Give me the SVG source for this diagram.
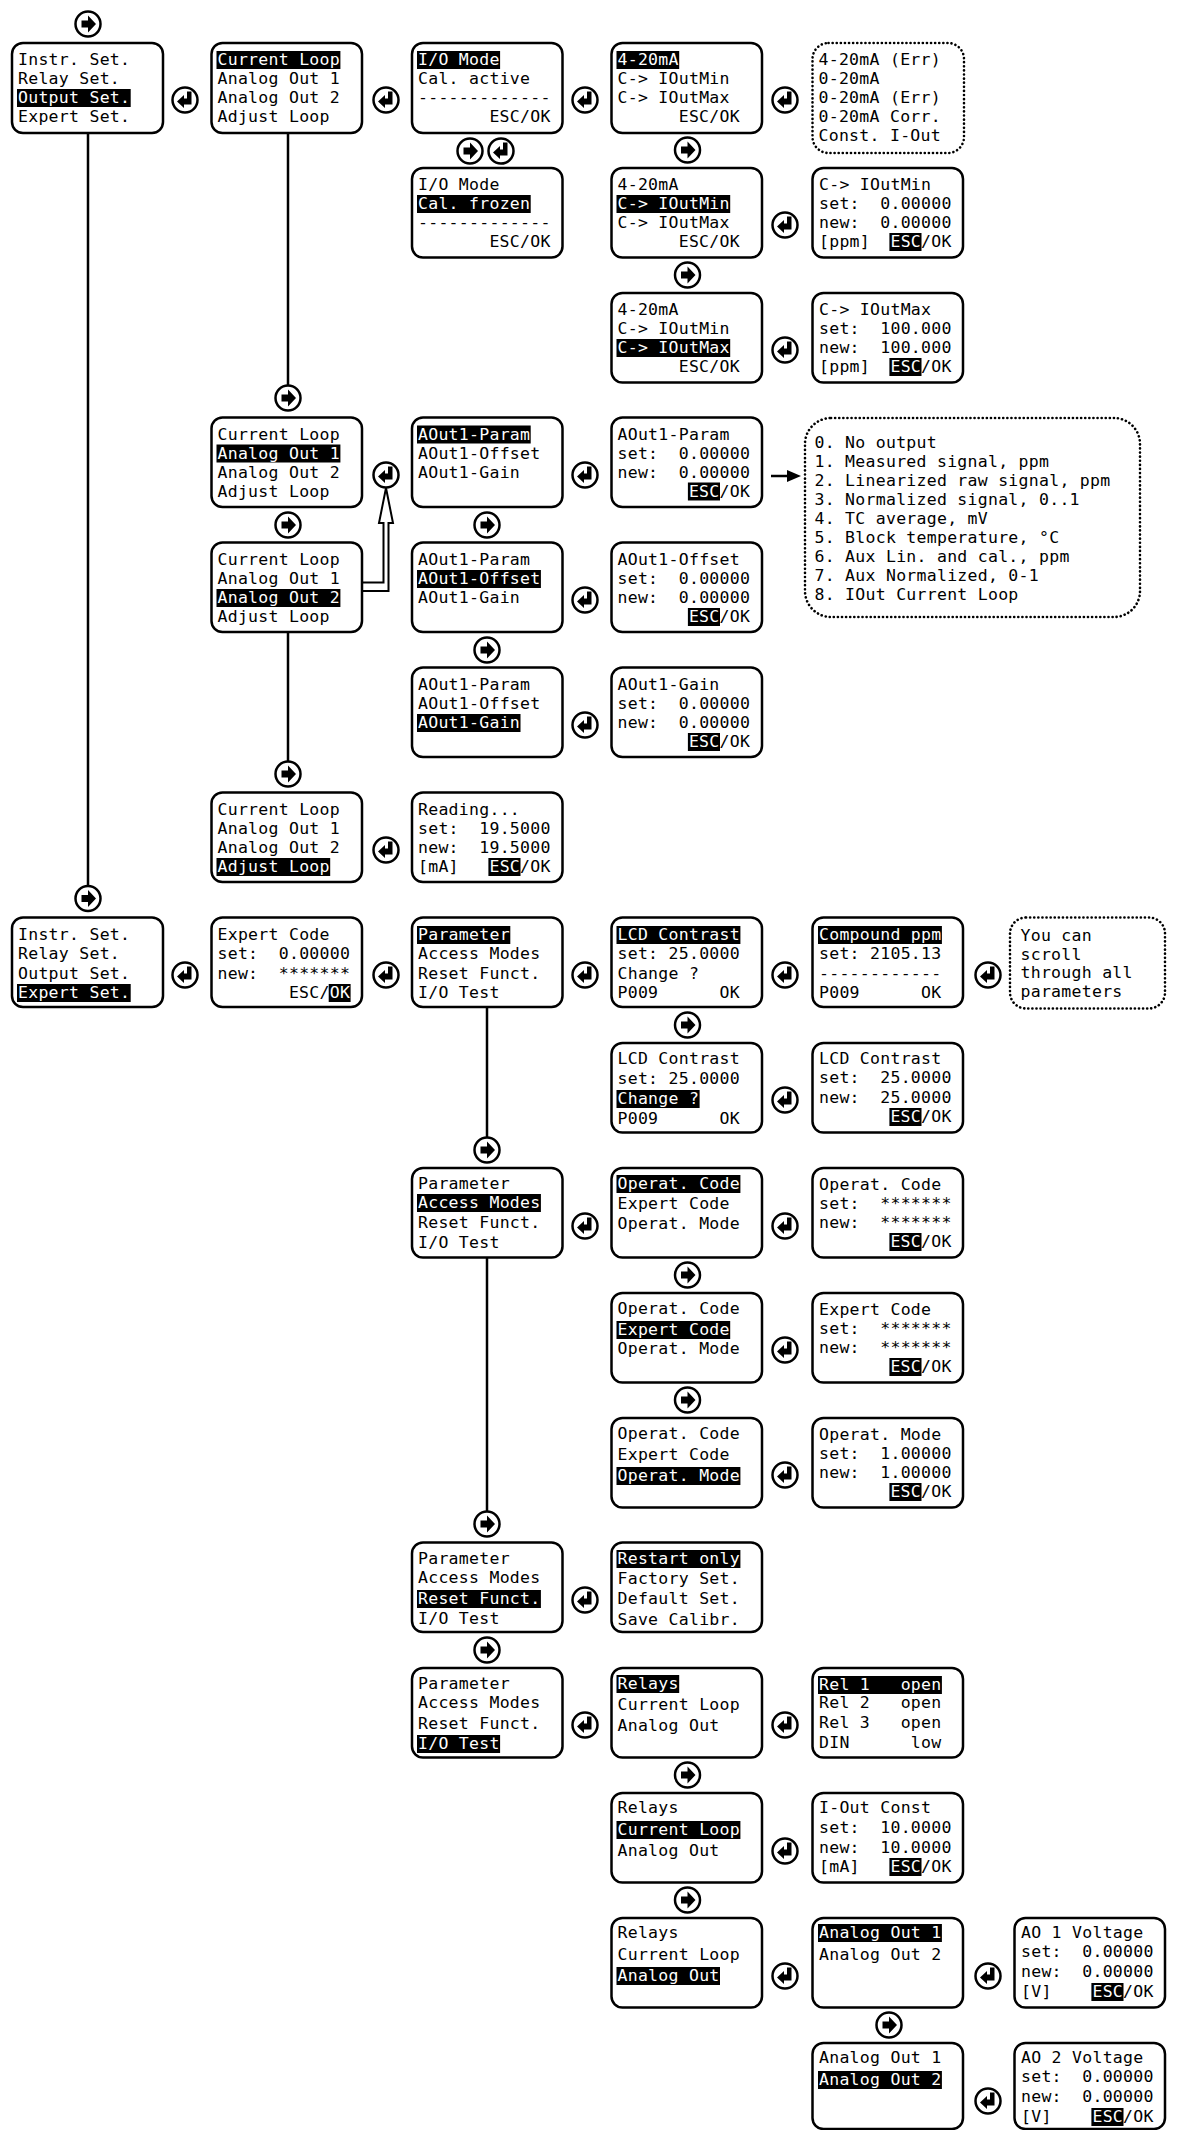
<svg xmlns="http://www.w3.org/2000/svg" xmlns:xlink="http://www.w3.org/1999/xlink" width="1178" height="2130" viewBox="0 0 1178 2130" xml:space="preserve">
<style>
.b{fill:#fff;stroke:#000;stroke-width:2.5}
.d{fill:#fff;stroke:#000;stroke-width:2.6;stroke-dasharray:0.1 4;stroke-linecap:round}
text{font-family:"DejaVu Sans Mono","Liberation Mono",monospace;font-size:16.5px;letter-spacing:0.27px;fill:#000;white-space:pre}
.w{fill:#fff}
.k{fill:#000}
.ln{stroke:#000;stroke-width:2.5;fill:none}
</style>
<defs>
<g id="nx"><circle r="12.5" fill="#fff" stroke="#000" stroke-width="2.5"/><path d="M-6.5,-3.5H0V-8.5L8,0L0,8.5V3.5H-6.5Z"/></g>
<g id="en"><circle r="12.5" fill="#fff" stroke="#000" stroke-width="2.5"/><path d="M2,-8.5H6.5V4.5H-1V8L-8,1.5L-1,-5V-1.5H2Z"/></g>
</defs>
<rect width="1178" height="2130" fill="#fff"/>

<g id="connectors">
<path class="ln" d="M88,133V886"/>
<path class="ln" d="M288,133V386"/>
<path class="ln" d="M288,632V762"/>
<path class="ln" d="M487,1007V1138"/>
<path class="ln" d="M487,1257V1512"/>
<path d="M362.5,582.5H383.5V523H379L386,488L393,523H388.5V591H362.5" fill="#fff" stroke="#000" stroke-width="2"/>
<path class="ln" d="M771,476H790" stroke-width="3"/>
<polygon points="787,470 801,476 787,482"/>
<use href="#nx" x="88" y="24"/>
<use href="#nx" x="470" y="151"/>
<use href="#en" x="501" y="151"/>
<use href="#nx" x="687.5" y="150"/>
<use href="#nx" x="687.5" y="275"/>
<use href="#nx" x="288" y="398"/>
<use href="#nx" x="288" y="525"/>
<use href="#nx" x="487" y="525"/>
<use href="#nx" x="487" y="650"/>
<use href="#nx" x="288" y="774"/>
<use href="#nx" x="88" y="898.5"/>
<use href="#nx" x="687.5" y="1025"/>
<use href="#nx" x="487" y="1150"/>
<use href="#nx" x="687.5" y="1275"/>
<use href="#nx" x="687.5" y="1400"/>
<use href="#nx" x="487" y="1524"/>
<use href="#nx" x="487" y="1650"/>
<use href="#nx" x="687.5" y="1775"/>
<use href="#nx" x="687.5" y="1900"/>
<use href="#nx" x="889" y="2025"/>
<use href="#en" x="185" y="100"/>
<use href="#en" x="386" y="100"/>
<use href="#en" x="585" y="100"/>
<use href="#en" x="785" y="100"/>
<use href="#en" x="785" y="225"/>
<use href="#en" x="785" y="350"/>
<use href="#en" x="386" y="475"/>
<use href="#en" x="585" y="475"/>
<use href="#en" x="585" y="600"/>
<use href="#en" x="585" y="725"/>
<use href="#en" x="386" y="850"/>
<use href="#en" x="185" y="975"/>
<use href="#en" x="386" y="975"/>
<use href="#en" x="585" y="975"/>
<use href="#en" x="785" y="975"/>
<use href="#en" x="988" y="975"/>
<use href="#en" x="785" y="1100"/>
<use href="#en" x="585" y="1226"/>
<use href="#en" x="785" y="1226"/>
<use href="#en" x="785" y="1350"/>
<use href="#en" x="785" y="1475"/>
<use href="#en" x="585" y="1600"/>
<use href="#en" x="585" y="1725"/>
<use href="#en" x="785" y="1725"/>
<use href="#en" x="785" y="1851"/>
<use href="#en" x="785" y="1976"/>
<use href="#en" x="988" y="1976"/>
<use href="#en" x="988" y="2101"/>
</g>

<g id="n-a1"><rect class="b" x="12" y="43" width="151" height="90" rx="11"/><rect class="k" x="17" y="89" width="113.7" height="18"/><text x="18" y="65">Instr. Set.</text><text x="18" y="84">Relay Set.</text><text class="w" x="18" y="103">Output Set.</text><text x="18" y="122">Expert Set.</text></g>
<g id="n-b1"><rect class="b" x="211.5" y="43" width="150.5" height="90" rx="11"/><rect class="k" x="216.5" y="51" width="123.9" height="18"/><text class="w" x="217.5" y="65">Current Loop</text><text x="217.5" y="84">Analog Out 1</text><text x="217.5" y="103">Analog Out 2</text><text x="217.5" y="122">Adjust Loop</text></g>
<g id="n-c1"><rect class="b" x="412" y="43" width="150.5" height="90" rx="11"/><rect class="k" x="417" y="51" width="83.1" height="18"/><text class="w" x="418" y="65">I/O Mode</text><text x="418" y="84">Cal. active</text><text x="418" y="103">-------------</text><text x="489.4" y="122">ESC/OK</text></g>
<g id="n-c2"><rect class="b" x="412" y="168" width="150.5" height="89.5" rx="11"/><rect class="k" x="417" y="195" width="113.7" height="18"/><text x="418" y="190">I/O Mode</text><text class="w" x="418" y="209">Cal. frozen</text><text x="418" y="228">-------------</text><text x="489.4" y="247">ESC/OK</text></g>
<g id="n-d1"><rect class="b" x="611.5" y="43" width="150.5" height="90" rx="11"/><rect class="k" x="616.5" y="51" width="62.7" height="18"/><text class="w" x="617.5" y="65">4-20mA</text><text x="617.5" y="84">C-&gt; IOutMin</text><text x="617.5" y="103">C-&gt; IOutMax</text><text x="678.7" y="122">ESC/OK</text></g>
<g id="n-d2"><rect class="b" x="611.5" y="168" width="150.5" height="89.5" rx="11"/><rect class="k" x="616.5" y="195" width="113.7" height="18"/><text x="617.5" y="190">4-20mA</text><text class="w" x="617.5" y="209">C-&gt; IOutMin</text><text x="617.5" y="228">C-&gt; IOutMax</text><text x="678.7" y="247">ESC/OK</text></g>
<g id="n-d3"><rect class="b" x="611.5" y="293" width="150.5" height="89.5" rx="11"/><rect class="k" x="616.5" y="339" width="113.7" height="18"/><text x="617.5" y="315">4-20mA</text><text x="617.5" y="334">C-&gt; IOutMin</text><text class="w" x="617.5" y="353">C-&gt; IOutMax</text><text x="678.7" y="372">ESC/OK</text></g>
<g id="n-e1"><rect class="d" x="812.5" y="43" width="151.5" height="110" rx="16"/><text x="818.5" y="65">4-20mA (Err)</text><text x="818.5" y="84">0-20mA</text><text x="818.5" y="103">0-20mA (Err)</text><text x="818.5" y="122">0-20mA Corr.</text><text x="818.5" y="141">Const. I-Out</text></g>
<g id="n-e2"><rect class="b" x="812.5" y="168" width="150.5" height="89.5" rx="11"/><rect class="k" x="889.4" y="233" width="32.1" height="18"/><text x="819" y="190">C-&gt; IOutMin</text><text x="819" y="209">set:  0.00000</text><text x="819" y="228">new:  0.00000</text><text x="819" y="247">[ppm]  <tspan class="w">ESC</tspan>/OK</text></g>
<g id="n-e3"><rect class="b" x="812.5" y="293" width="150.5" height="89.5" rx="11"/><rect class="k" x="889.4" y="358" width="32.1" height="18"/><text x="819" y="315">C-&gt; IOutMax</text><text x="819" y="334">set:  100.000</text><text x="819" y="353">new:  100.000</text><text x="819" y="372">[ppm]  <tspan class="w">ESC</tspan>/OK</text></g>

<g id="n-b2"><rect class="b" x="211.5" y="417.5" width="150.5" height="89.5" rx="11"/><rect class="k" x="216.5" y="444.5" width="123.9" height="18"/><text x="217.5" y="439.5">Current Loop</text><text class="w" x="217.5" y="458.5">Analog Out 1</text><text x="217.5" y="477.5">Analog Out 2</text><text x="217.5" y="496.5">Adjust Loop</text></g>
<g id="n-c3"><rect class="b" x="412" y="417.5" width="150.5" height="89.5" rx="11"/><rect class="k" x="417" y="425.5" width="113.7" height="18"/><text class="w" x="418" y="439.5">AOut1-Param</text><text x="418" y="458.5">AOut1-Offset</text><text x="418" y="477.5">AOut1-Gain</text></g>
<g id="n-d4"><rect class="b" x="611.5" y="417.5" width="150.5" height="89.5" rx="11"/><rect class="k" x="687.9" y="482.5" width="32.1" height="18"/><text x="617.5" y="439.5">AOut1-Param</text><text x="617.5" y="458.5">set:  0.00000</text><text x="617.5" y="477.5">new:  0.00000</text><text x="688.9" y="496.5"><tspan class="w">ESC</tspan>/OK</text></g>
<g id="n-e4"><rect class="d" x="805" y="418" width="335" height="199" rx="26"/><text x="814.5" y="448">0. No output</text><text x="814.5" y="467">1. Measured signal, ppm</text><text x="814.5" y="486">2. Linearized raw signal, ppm</text><text x="814.5" y="505">3. Normalized signal, 0..1</text><text x="814.5" y="524">4. TC average, mV</text><text x="814.5" y="543">5. Block temperature, °C</text><text x="814.5" y="562">6. Aux Lin. and cal., ppm</text><text x="814.5" y="581">7. Aux Normalized, 0-1</text><text x="814.5" y="600">8. IOut Current Loop</text></g>
<g id="n-b3"><rect class="b" x="211.5" y="542.5" width="150.5" height="89.5" rx="11"/><rect class="k" x="216.5" y="589" width="123.9" height="18"/><text x="217.5" y="565">Current Loop</text><text x="217.5" y="584">Analog Out 1</text><text class="w" x="217.5" y="603">Analog Out 2</text><text x="217.5" y="622">Adjust Loop</text></g>
<g id="n-c4"><rect class="b" x="412" y="542.5" width="150.5" height="89.5" rx="11"/><rect class="k" x="417" y="570" width="123.9" height="18"/><text x="418" y="565">AOut1-Param</text><text class="w" x="418" y="584">AOut1-Offset</text><text x="418" y="603">AOut1-Gain</text></g>
<g id="n-d5"><rect class="b" x="611.5" y="542.5" width="150.5" height="89.5" rx="11"/><rect class="k" x="687.9" y="608" width="32.1" height="18"/><text x="617.5" y="565">AOut1-Offset</text><text x="617.5" y="584">set:  0.00000</text><text x="617.5" y="603">new:  0.00000</text><text x="688.9" y="622"><tspan class="w">ESC</tspan>/OK</text></g>
<g id="n-c5"><rect class="b" x="412" y="667.5" width="150.5" height="89.5" rx="11"/><rect class="k" x="417" y="714" width="103.5" height="18"/><text x="418" y="690">AOut1-Param</text><text x="418" y="709">AOut1-Offset</text><text class="w" x="418" y="728">AOut1-Gain</text></g>
<g id="n-d6"><rect class="b" x="611.5" y="667.5" width="150.5" height="89.5" rx="11"/><rect class="k" x="687.9" y="733" width="32.1" height="18"/><text x="617.5" y="690">AOut1-Gain</text><text x="617.5" y="709">set:  0.00000</text><text x="617.5" y="728">new:  0.00000</text><text x="688.9" y="747"><tspan class="w">ESC</tspan>/OK</text></g>
<g id="n-b4"><rect class="b" x="211.5" y="792.5" width="150.5" height="89.5" rx="11"/><rect class="k" x="216.5" y="858" width="113.7" height="18"/><text x="217.5" y="815">Current Loop</text><text x="217.5" y="834">Analog Out 1</text><text x="217.5" y="853">Analog Out 2</text><text class="w" x="217.5" y="872">Adjust Loop</text></g>
<g id="n-c6"><rect class="b" x="412" y="792.5" width="150.5" height="89.5" rx="11"/><rect class="k" x="488.4" y="858" width="32.1" height="18"/><text x="418" y="815">Reading...</text><text x="418" y="834">set:  19.5000</text><text x="418" y="853">new:  19.5000</text><text x="418" y="872">[mA]   <tspan class="w">ESC</tspan>/OK</text></g>

<g id="n-a2"><rect class="b" x="12" y="917.5" width="151" height="89.5" rx="11"/><rect class="k" x="17" y="984" width="113.7" height="18"/><text x="18" y="940">Instr. Set.</text><text x="18" y="959">Relay Set.</text><text x="18" y="979">Output Set.</text><text class="w" x="18" y="998">Expert Set.</text></g>
<g id="n-b5"><rect class="b" x="211.5" y="917.5" width="150.5" height="89.5" rx="11"/><rect class="k" x="328.7" y="984" width="21.9" height="18"/><text x="217.5" y="940">Expert Code</text><text x="217.5" y="959">set:  0.00000</text><text x="217.5" y="979">new:  *******</text><text x="288.9" y="998">ESC/<tspan class="w">OK</tspan></text></g>
<g id="n-c7"><rect class="b" x="412" y="917.5" width="150.5" height="89.5" rx="11"/><rect class="k" x="417" y="926" width="93.3" height="18"/><text class="w" x="418" y="940">Parameter</text><text x="418" y="959">Access Modes</text><text x="418" y="979">Reset Funct.</text><text x="418" y="998">I/O Test</text></g>
<g id="n-d7"><rect class="b" x="611.5" y="917.5" width="150.5" height="89.5" rx="11"/><rect class="k" x="616.5" y="926" width="123.9" height="18"/><text class="w" x="617.5" y="940">LCD Contrast</text><text x="617.5" y="959">set: 25.0000</text><text x="617.5" y="979">Change ?</text><text x="617.5" y="998">P009      OK</text></g>
<g id="n-e7"><rect class="b" x="812.5" y="917.5" width="150.5" height="89.5" rx="11"/><rect class="k" x="818" y="926" width="123.9" height="18"/><text class="w" x="819" y="940">Compound ppm</text><text x="819" y="959">set: 2105.13</text><text x="819" y="979">------------</text><text x="819" y="998">P009      OK</text></g>
<g id="n-f7"><rect class="d" x="1010" y="917.5" width="155" height="91" rx="16"/><text x="1020.5" y="941">You can</text><text x="1020.5" y="959.5">scroll</text><text x="1020.5" y="978">through all</text><text x="1020.5" y="996.5">parameters</text></g>
<g id="n-d8"><rect class="b" x="611.5" y="1043" width="150.5" height="89.5" rx="11"/><rect class="k" x="616.5" y="1090" width="83.1" height="18"/><text x="617.5" y="1064">LCD Contrast</text><text x="617.5" y="1084">set: 25.0000</text><text class="w" x="617.5" y="1104">Change ?</text><text x="617.5" y="1124">P009      OK</text></g>
<g id="n-e8"><rect class="b" x="812.5" y="1043" width="150.5" height="89.5" rx="11"/><rect class="k" x="889.4" y="1108" width="32.1" height="18"/><text x="819" y="1064">LCD Contrast</text><text x="819" y="1083">set:  25.0000</text><text x="819" y="1103">new:  25.0000</text><text x="890.4" y="1122"><tspan class="w">ESC</tspan>/OK</text></g>

<g id="n-c8"><rect class="b" x="412" y="1168" width="150.5" height="89.5" rx="11"/><rect class="k" x="417" y="1194" width="123.9" height="18"/><text x="418" y="1189">Parameter</text><text class="w" x="418" y="1208">Access Modes</text><text x="418" y="1228">Reset Funct.</text><text x="418" y="1248">I/O Test</text></g>
<g id="n-d9"><rect class="b" x="611.5" y="1168" width="150.5" height="89.5" rx="11"/><rect class="k" x="616.5" y="1175" width="123.9" height="18"/><text class="w" x="617.5" y="1189">Operat. Code</text><text x="617.5" y="1209">Expert Code</text><text x="617.5" y="1229">Operat. Mode</text></g>
<g id="n-e9"><rect class="b" x="812.5" y="1168" width="150.5" height="89.5" rx="11"/><rect class="k" x="889.4" y="1233" width="32.1" height="18"/><text x="819" y="1190">Operat. Code</text><text x="819" y="1209">set:  *******</text><text x="819" y="1228">new:  *******</text><text x="890.4" y="1247"><tspan class="w">ESC</tspan>/OK</text></g>
<g id="n-d10"><rect class="b" x="611.5" y="1293" width="150.5" height="89.5" rx="11"/><rect class="k" x="616.5" y="1321" width="113.7" height="18"/><text x="617.5" y="1314">Operat. Code</text><text class="w" x="617.5" y="1335">Expert Code</text><text x="617.5" y="1354">Operat. Mode</text></g>
<g id="n-e10"><rect class="b" x="812.5" y="1293" width="150.5" height="89.5" rx="11"/><rect class="k" x="889.4" y="1358" width="32.1" height="18"/><text x="819" y="1315">Expert Code</text><text x="819" y="1334">set:  *******</text><text x="819" y="1353">new:  *******</text><text x="890.4" y="1372"><tspan class="w">ESC</tspan>/OK</text></g>
<g id="n-d11"><rect class="b" x="611.5" y="1418" width="150.5" height="89.5" rx="11"/><rect class="k" x="616.5" y="1467" width="123.9" height="18"/><text x="617.5" y="1439">Operat. Code</text><text x="617.5" y="1460">Expert Code</text><text class="w" x="617.5" y="1481">Operat. Mode</text></g>
<g id="n-e11"><rect class="b" x="812.5" y="1418" width="150.5" height="89.5" rx="11"/><rect class="k" x="889.4" y="1483" width="32.1" height="18"/><text x="819" y="1440">Operat. Mode</text><text x="819" y="1459">set:  1.00000</text><text x="819" y="1478">new:  1.00000</text><text x="890.4" y="1497"><tspan class="w">ESC</tspan>/OK</text></g>

<g id="n-c9"><rect class="b" x="412" y="1542.5" width="150.5" height="89.5" rx="11"/><rect class="k" x="417" y="1590" width="123.9" height="18"/><text x="418" y="1564">Parameter</text><text x="418" y="1583">Access Modes</text><text class="w" x="418" y="1604">Reset Funct.</text><text x="418" y="1624">I/O Test</text></g>
<g id="n-d12"><rect class="b" x="611.5" y="1542.5" width="150.5" height="89.5" rx="11"/><rect class="k" x="616.5" y="1550" width="123.9" height="18"/><text class="w" x="617.5" y="1564">Restart only</text><text x="617.5" y="1584">Factory Set.</text><text x="617.5" y="1604">Default Set.</text><text x="617.5" y="1625">Save Calibr.</text></g>
<g id="n-c10"><rect class="b" x="412" y="1668" width="150.5" height="89.5" rx="11"/><rect class="k" x="417" y="1735" width="83.1" height="18"/><text x="418" y="1689">Parameter</text><text x="418" y="1708">Access Modes</text><text x="418" y="1729">Reset Funct.</text><text class="w" x="418" y="1749">I/O Test</text></g>
<g id="n-d13"><rect class="b" x="611.5" y="1668" width="150.5" height="89.5" rx="11"/><rect class="k" x="616.5" y="1675" width="62.7" height="18"/><text class="w" x="617.5" y="1689">Relays</text><text x="617.5" y="1710">Current Loop</text><text x="617.5" y="1731">Analog Out</text></g>
<g id="n-e13"><rect class="b" x="812.5" y="1668" width="150.5" height="89.5" rx="11"/><rect class="k" x="818" y="1676" width="123.9" height="18"/><text class="w" x="819" y="1690">Rel 1   open</text><text x="819" y="1708">Rel 2   open</text><text x="819" y="1728">Rel 3   open</text><text x="819" y="1748">DIN      low</text></g>
<g id="n-d14"><rect class="b" x="611.5" y="1793" width="150.5" height="89.5" rx="11"/><rect class="k" x="616.5" y="1821" width="123.9" height="18"/><text x="617.5" y="1813">Relays</text><text class="w" x="617.5" y="1835">Current Loop</text><text x="617.5" y="1856">Analog Out</text></g>
<g id="n-e14"><rect class="b" x="812.5" y="1793" width="150.5" height="89.5" rx="11"/><rect class="k" x="889.4" y="1858" width="32.1" height="18"/><text x="819" y="1813">I-Out Const</text><text x="819" y="1833">set:  10.0000</text><text x="819" y="1853">new:  10.0000</text><text x="819" y="1872">[mA]   <tspan class="w">ESC</tspan>/OK</text></g>
<g id="n-d15"><rect class="b" x="611.5" y="1918" width="150.5" height="89.5" rx="11"/><rect class="k" x="616.5" y="1967" width="103.5" height="18"/><text x="617.5" y="1938">Relays</text><text x="617.5" y="1960">Current Loop</text><text class="w" x="617.5" y="1981">Analog Out</text></g>
<g id="n-e15"><rect class="b" x="812.5" y="1918" width="150.5" height="89.5" rx="11"/><rect class="k" x="818" y="1924" width="123.9" height="18"/><text class="w" x="819" y="1938">Analog Out 1</text><text x="819" y="1960">Analog Out 2</text></g>
<g id="n-f15"><rect class="b" x="1014.5" y="1918" width="150.5" height="89.5" rx="11"/><rect class="k" x="1091.4" y="1983" width="32.1" height="18"/><text x="1021" y="1938">AO 1 Voltage</text><text x="1021" y="1957">set:  0.00000</text><text x="1021" y="1977">new:  0.00000</text><text x="1021" y="1997">[V]    <tspan class="w">ESC</tspan>/OK</text></g>
<g id="n-e16"><rect class="b" x="812.5" y="2043" width="150.5" height="86" rx="11"/><rect class="k" x="818" y="2071" width="123.9" height="18"/><text x="819" y="2063">Analog Out 1</text><text class="w" x="819" y="2085">Analog Out 2</text></g>
<g id="n-f16"><rect class="b" x="1014.5" y="2043" width="150.5" height="86" rx="11"/><rect class="k" x="1091.4" y="2108" width="32.1" height="18"/><text x="1021" y="2063">AO 2 Voltage</text><text x="1021" y="2082">set:  0.00000</text><text x="1021" y="2102">new:  0.00000</text><text x="1021" y="2122">[V]    <tspan class="w">ESC</tspan>/OK</text></g>
</svg>
